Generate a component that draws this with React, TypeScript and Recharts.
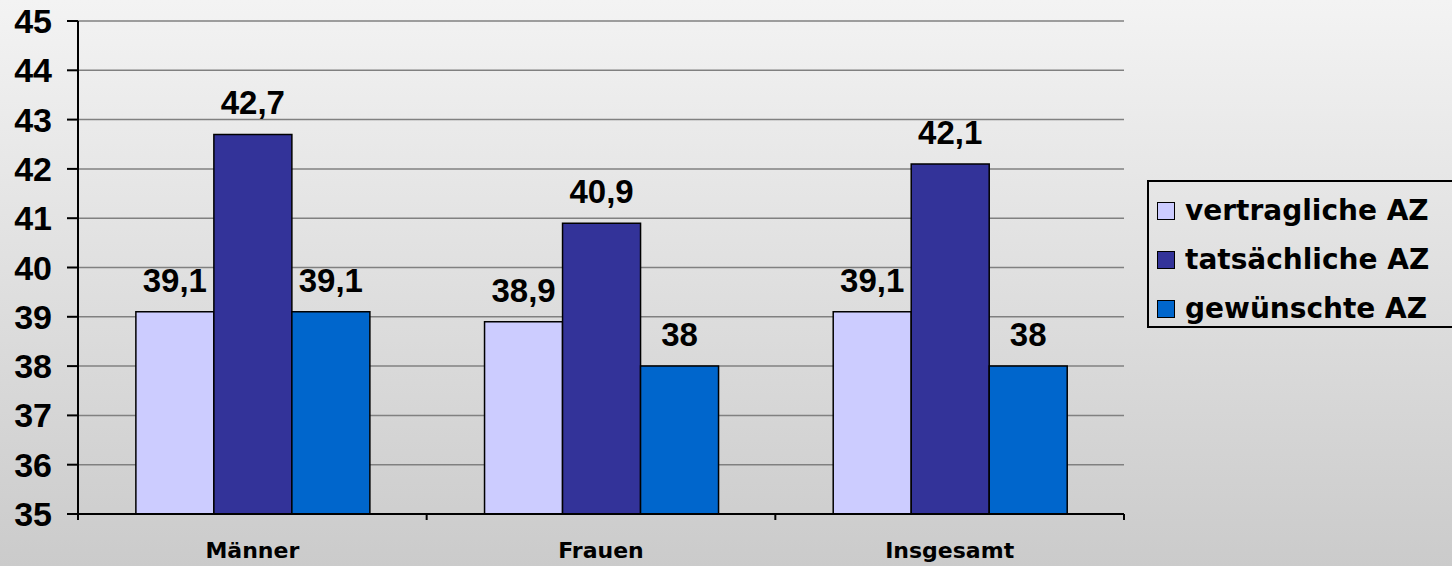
import { BarChart, Bar, XAxis, YAxis, CartesianGrid, LabelList } from "recharts";

const categories = ["Männer", "Frauen", "Insgesamt"];
const vertraglich = [39.1, 38.9, 39.1];
const tatsaechlich = [42.7, 40.9, 42.1];
const gewuenscht = [39.1, 38, 38];
const yTicks = [35, 36, 37, 38, 39, 40, 41, 42, 43, 44, 45];

const series = [
	{ key: "v", name: "vertragliche AZ", color: "#CCCCFF" },
	{ key: "t", name: "tatsächliche AZ", color: "#333399" },
	{ key: "g", name: "gewünschte AZ", color: "#0066CC" },
];

const data = categories.map((name, i) => ({
	name,
	v: vertraglich[i],
	t: tatsaechlich[i],
	g: gewuenscht[i],
}));

const numFont = "'Liberation Sans', Arial, sans-serif";
const textFont = "'DejaVu Sans', sans-serif";

const fmt = (v: any) => String(v).replace(".", ",");

// category ticks sit on the band edges, like Excel
const CatTick = (props: any) => {
	const { x, y, payload, index } = props;
	const half = payload.offset || 174.3;
	const top = y - 8;
	return (
		<g>
			<line x1={x - half} x2={x - half} y1={top} y2={top + 6} stroke="#000" strokeWidth={2} />
			{index === categories.length - 1 && (
				<line x1={x + half} x2={x + half} y1={top} y2={top + 6} stroke="#000" strokeWidth={2} />
			)}
			<text
				x={x}
				y={top + 44}
				textAnchor="middle"
				fontFamily={textFont}
				fontWeight="bold"
				fontSize={22}
				fill="#000"
			>
				{payload.value}
			</text>
		</g>
	);
};

const LegendBox = () => (
	<div
		style={{
			position: "absolute",
			left: 1147,
			top: 180,
			border: "2px solid #000",
			width: 320,
			height: 148,
			boxSizing: "border-box",
			padding: "4px 0 0 8px",
			fontFamily: textFont,
			fontWeight: "bold",
			fontSize: 28,
			color: "#000",
		}}
	>
		{series.map((s) => (
			<div key={s.key} style={{ display: "flex", alignItems: "center", height: 49, whiteSpace: "nowrap" }}>
				<div style={{ width: 16, height: 16, background: s.color, border: "1.5px solid #000", marginRight: 10 }} />
				<span>{s.name}</span>
			</div>
		))}
	</div>
);

export default function App() {
	return (
		<div
			style={{
				position: "absolute",
				left: 0,
				top: 0,
				width: 1452,
				height: 566,
				overflow: "hidden",
				background: "linear-gradient(#f3f3f3, #cbcbcb)",
			}}
		>
			<BarChart
				width={1452}
				height={566}
				data={data}
				margin={{ top: 21, right: 328, left: 0, bottom: 0 }}
				barCategoryGap="16.6%"
				barGap={0}
			>
				<CartesianGrid horizontal vertical={false} stroke="#808080" strokeWidth={1.5} />
				<XAxis
					dataKey="name"
					height={52}
					interval={0}
					axisLine={{ stroke: "#000", strokeWidth: 2 }}
					tickLine={false}
					tick={<CatTick />}
				/>
				<XAxis dataKey="name" xAxisId="top" orientation="top" height={0} tick={false} tickLine={false} axisLine={{ stroke: "#000", strokeWidth: 2 }} />
				<YAxis
					width={78}
					domain={[35, 45]}
					ticks={yTicks}
					interval={0}
					allowDataOverflow
					axisLine={{ stroke: "#000", strokeWidth: 2 }}
					tickLine={{ stroke: "#000", strokeWidth: 2 }}
					tickSize={11}
					tickMargin={15}
					tick={{ fill: "#000", fontFamily: numFont, fontWeight: "bold", fontSize: 34 }}
				/>
				<YAxis yAxisId="right" orientation="right" width={0} domain={[35, 45]} tick={false} tickLine={false} axisLine={{ stroke: "#000", strokeWidth: 2 }} />
				{series.map((s) => (
					<Bar key={s.key} dataKey={s.key} name={s.name} fill={s.color} stroke="#000" strokeWidth={1.5} isAnimationActive={false}>
						<LabelList
							dataKey={s.key}
							position="top"
							offset={20}
							formatter={fmt}
							fill="#000"
							fontFamily={numFont}
							fontWeight="bold"
							fontSize={33}
						/>
					</Bar>
				))}
			</BarChart>
			<LegendBox />
		</div>
	);
}
